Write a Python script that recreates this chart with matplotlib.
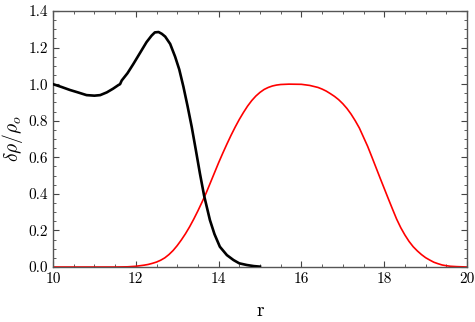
import matplotlib
matplotlib.use("Agg")
import matplotlib.pyplot as plt
from matplotlib.ticker import MultipleLocator

plt.rcParams['font.family'] = 'serif'
plt.rcParams['font.serif'] = ['cmr10', 'DejaVu Serif']
plt.rcParams['mathtext.fontset'] = 'cm'
plt.rcParams['axes.formatter.use_mathtext'] = True

# black (measured) profile
r_black = [10.0, 10.2, 10.41, 10.6, 10.81, 11.0, 11.14, 11.3, 11.45, 11.58, 11.62, 11.66,
           11.8, 11.94, 12.1, 12.26, 12.38, 12.46, 12.55, 12.63, 12.71, 12.83, 12.95,
           13.05, 13.15, 13.25, 13.35, 13.45, 13.55, 13.65, 13.79, 13.9, 14.03, 14.2,
           14.36, 14.5, 14.68, 14.85, 15.0]
v_black = [1.0, 0.985, 0.968, 0.955, 0.94, 0.937, 0.94, 0.955, 0.975, 0.995, 1.0, 1.02,
           1.06, 1.11, 1.17, 1.23, 1.265, 1.283, 1.285, 1.275, 1.26, 1.22, 1.15,
           1.08, 0.986, 0.88, 0.767, 0.64, 0.51, 0.39, 0.257, 0.18, 0.111, 0.065,
           0.038, 0.02, 0.011, 0.005, 0.002]

# red (model) profile
r_red = [10.0, 11.0, 11.5, 11.8, 12.0, 12.1, 12.2, 12.3, 12.4, 12.5, 12.6, 12.7, 12.8,
         12.9, 13.0, 13.1, 13.2, 13.3, 13.4, 13.5, 13.6, 13.7, 13.8, 13.9, 14.0, 14.1,
         14.2, 14.3, 14.4, 14.5, 14.6, 14.7, 14.8, 14.9, 15.0, 15.1, 15.2, 15.3, 15.4,
         15.5, 15.7, 16.0, 16.2, 16.4, 16.5, 16.6, 16.7, 16.8, 16.9, 17.0, 17.1, 17.2,
         17.3, 17.4, 17.5, 17.6, 17.7, 17.8, 17.9, 18.0, 18.1, 18.2, 18.3, 18.4, 18.5,
         18.6, 18.7, 18.8, 18.9, 19.0, 19.1, 19.2, 19.3, 19.4, 19.5, 19.6, 19.75, 20.0]
v_red = [0.0, 0.0, 0.0, 0.001, 0.004, 0.007, 0.01, 0.014, 0.02, 0.027, 0.037, 0.05, 0.068,
         0.09, 0.117, 0.148, 0.182, 0.22, 0.262, 0.307, 0.355, 0.405, 0.46, 0.515, 0.57, 0.622,
         0.672, 0.72, 0.765, 0.807, 0.845, 0.88, 0.91, 0.935, 0.955, 0.971, 0.982, 0.99, 0.995,
         0.998, 1.0, 0.999, 0.993, 0.982, 0.973, 0.962, 0.948, 0.933, 0.915, 0.893, 0.867, 0.836,
         0.80, 0.76, 0.71, 0.66, 0.603, 0.545, 0.487, 0.43, 0.373, 0.317, 0.262, 0.215, 0.175,
         0.14, 0.111, 0.088, 0.068, 0.051, 0.038, 0.026, 0.018, 0.011, 0.007, 0.004, 0.002, 0.0]

fig = plt.figure(figsize=(4.75, 3.22), dpi=100)
ax = fig.add_axes([53/475, 55/322, 414/475, 256/322])

ax.plot(r_red, v_red, color='#ff0000', lw=1.2, zorder=2)
ax.plot(r_black, v_black, color='black', lw=1.9, zorder=3)

ax.set_xlim(10, 20)
ax.set_ylim(0, 1.4)
ax.xaxis.set_major_locator(MultipleLocator(2))
ax.xaxis.set_minor_locator(MultipleLocator(0.5))
ax.yaxis.set_major_locator(MultipleLocator(0.2))
ax.yaxis.set_minor_locator(MultipleLocator(0.05))
ax.xaxis.set_major_formatter(plt.FuncFormatter(lambda v, p: f"{v:.0f}"))
ax.yaxis.set_major_formatter(plt.FuncFormatter(lambda v, p: f"{v:.1f}"))

ax.tick_params(which='both', direction='in', top=True, right=True, labelsize=11,
               color='#444444')
ax.tick_params(which='major', length=4, width=0.8)
ax.tick_params(which='minor', length=2, width=0.6)
for s in ax.spines.values():
    s.set_color('#555555')
    s.set_linewidth(1.0)

ax.set_xlabel('r', fontsize=14, labelpad=12)
ax.set_ylabel(r'$\delta\rho/\rho_o$', fontsize=14, labelpad=0)
ax.yaxis.set_label_coords(-28/414, 0.5)

fig.savefig('out.png', dpi=100)
